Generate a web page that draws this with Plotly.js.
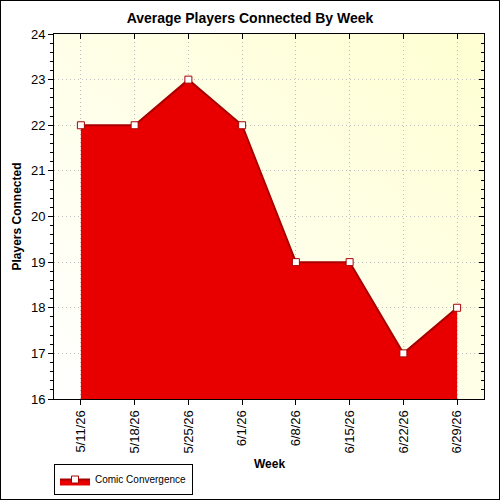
<!DOCTYPE html>
<html>
<head>
<meta charset="utf-8">
<script src="https://cdn.plot.ly/plotly-3.0.1.min.js"></script>
<style>
html,body{margin:0;padding:0;background:#fff;}
#wrap{position:relative;width:500px;height:500px;}
#chart{width:500px;height:500px;}
#frame{position:absolute;left:0;top:0;width:498px;height:498px;border:1px solid #000;pointer-events:none;}
</style>
</head>
<body>
<div id="wrap"><div id="chart"></div><div id="frame"></div></div>
<script>
const weeks = ["5/11/26","5/18/26","5/25/26","6/1/26","6/8/26","6/15/26","6/22/26","6/29/26"];
const players = [22, 22, 23, 22, 19, 19, 17, 18];
const seriesName = "Comic Convergence";
const xTitle = "Week";
const yTitle = "Players Connected";
const chartTitle = "Average Players Connected By Week";

const idx = weeks.map((w, i) => i);

const bgSvg = '<svg xmlns="http://www.w3.org/2000/svg" width="100" height="100" preserveAspectRatio="none">' +
  '<defs><linearGradient id="g" x1="0" y1="1" x2="1" y2="0">' +
  '<stop offset="0" stop-color="#ffffff"/><stop offset="1" stop-color="#ffffd2"/></linearGradient></defs>' +
  '<rect width="100" height="100" fill="url(#g)"/></svg>';
const bgUri = 'data:image/svg+xml;base64,' + btoa(bgSvg);

const trace = {
  x: idx,
  y: players,
  name: seriesName,
  type: 'scatter',
  mode: 'lines+markers',
  fill: 'tozeroy',
  fillcolor: '#e80000',
  line: {color: '#a80000', width: 2},
  marker: {symbol: 'square', size: 7, color: '#ffffff', line: {color: '#a80000', width: 1}},
  cliponaxis: false
};

const tickFont = {family: 'Liberation Sans, Arial, sans-serif', size: 13, color: '#000'};

const layout = {
  width: 500, height: 500,
  margin: {l: 54, r: 16, t: 34, b: 101, pad: 0, autoexpand: false},
  paper_bgcolor: '#ffffff',
  plot_bgcolor: 'rgba(0,0,0,0)',
  font: {family: 'Liberation Sans, Arial, sans-serif', color: '#000'},
  title: {text: '<b>' + chartTitle + '</b>', font: {size: 14, family: 'Liberation Sans, Arial, sans-serif'}, x: 0.5, xanchor: 'center', y: 0.964, yanchor: 'middle'},
  images: [{source: bgUri, xref: 'paper', yref: 'paper', x: 0, y: 1, sizex: 1, sizey: 1, sizing: 'stretch', layer: 'below', xanchor: 'left', yanchor: 'top'}],
  annotations: [{
    text: '<b>' + xTitle + '</b>', xref: 'paper', yref: 'paper', x: 0.5, y: -0.178,
    xanchor: 'center', yanchor: 'middle', showarrow: false,
    font: {size: 12, family: 'Liberation Sans, Arial, sans-serif', color: '#000'}
  }],
  xaxis: {
    range: [-0.5, 7.5],
    tickvals: idx, ticktext: weeks,
    tickangle: -90,
    ticks: 'outside', ticklen: 5, tickcolor: '#000', tickwidth: 1,
    showline: true, linecolor: '#000', linewidth: 1,
    showgrid: true, gridcolor: '#c0c0c0', griddash: '1px,3px', gridwidth: 1,
    zeroline: false,
    tickfont: tickFont
  },
  xaxis2: {
    overlaying: 'x', side: 'top', anchor: 'y',
    range: [-0.5, 7.5], tickvals: idx, showticklabels: false,
    ticks: 'inside', ticklen: 5, tickcolor: '#000',
    showline: true, linecolor: '#000', linewidth: 1,
    showgrid: false, zeroline: false
  },
  yaxis: {
    range: [16, 24], dtick: 1,
    ticks: 'outside', ticklen: 5, tickcolor: '#000',
    minor: {dtick: 0.2, ticks: 'outside', ticklen: 3, tickcolor: '#000', showgrid: false},
    showline: true, linecolor: '#000', linewidth: 1,
    showgrid: true, gridcolor: '#c0c0c0', griddash: '1px,3px', gridwidth: 1,
    zeroline: false,
    tickfont: tickFont,
    title: {text: '<b>' + yTitle + '</b>', font: {size: 12}, standoff: 6}
  },
  yaxis2: {
    overlaying: 'y', side: 'right', anchor: 'x',
    range: [16, 24], dtick: 1, showticklabels: false,
    ticks: 'inside', ticklen: 5, tickcolor: '#000',
    minor: {dtick: 0.2, ticks: 'inside', ticklen: 3, tickcolor: '#000', showgrid: false},
    showline: true, linecolor: '#000', linewidth: 1,
    showgrid: false, zeroline: false
  },
  showlegend: true,
  legend: {
    orientation: 'v', x: 0, xanchor: 'left', y: 0.01, yref: 'container', yanchor: 'bottom',
    bordercolor: '#000', borderwidth: 1, bgcolor: '#fff',
    font: {size: 10, family: 'Liberation Sans, Arial, sans-serif'},
    itemwidth: 30, tracegroupgap: 0
  }
};

const dummyX = {x: [0], y: [16], xaxis: 'x2', yaxis: 'y', mode: 'markers', marker: {opacity: 0}, showlegend: false, hoverinfo: 'skip'};
const dummyY = {x: [0], y: [16], xaxis: 'x', yaxis: 'y2', mode: 'markers', marker: {opacity: 0}, showlegend: false, hoverinfo: 'skip'};

Plotly.newPlot('chart', [trace, dummyX, dummyY], layout, {displayModeBar: false, staticPlot: true});
</script>
</body>
</html>
